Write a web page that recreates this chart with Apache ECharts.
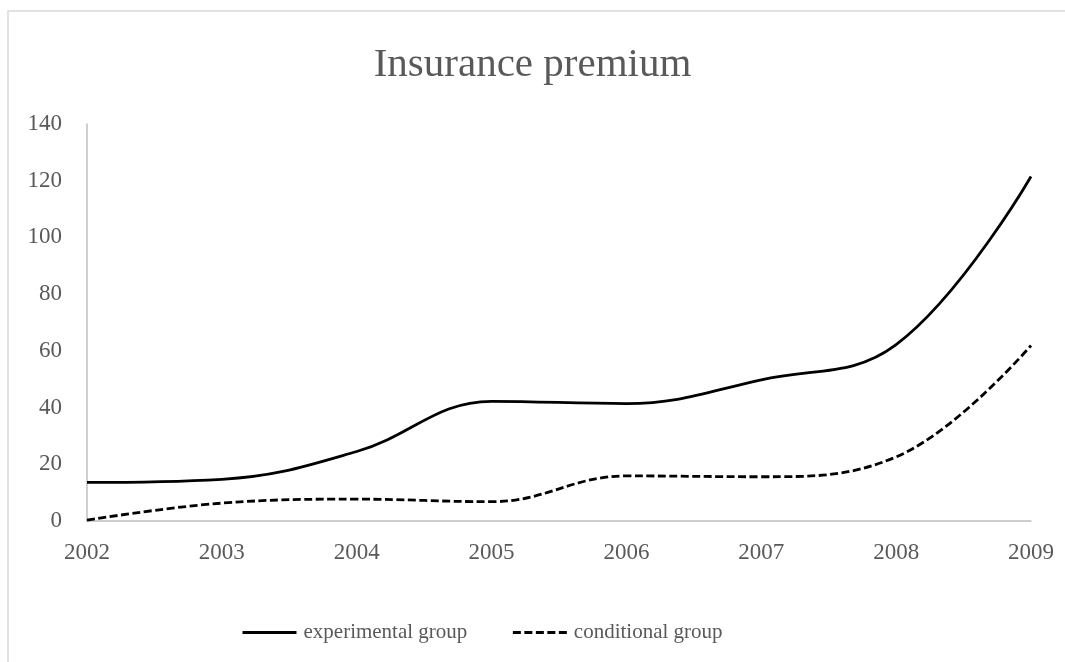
<!DOCTYPE html>
<html>
<head>
<meta charset="utf-8">
<title>Insurance premium</title>
<script src="https://cdn.jsdelivr.net/npm/echarts@6/dist/echarts.min.js"></script>
<style>
  html, body { margin: 0; padding: 0; background: #ffffff; }
  #chart { width: 1065px; height: 662px; }
</style>
</head>
<body>
<div id="chart"></div>
<script>
// Years along the horizontal axis
const years = ['2002', '2003', '2004', '2005', '2006', '2007', '2008', '2009'];

// Premium values per group
const experimentalGroup = [13.6, 14.7, 24.5, 42.2, 41.4, 49.8, 62.2, 121.5];
const conditionalGroup = [0.3, 6.3, 7.7, 6.8, 15.9, 15.6, 22.6, 61.9];

// Value axis range
const yMin = 0;
const yMax = 140;
const yStep = 20;

const textGray = '#595959';
const axisGray = '#bfbfbf';
const serif = '"Liberation Serif", "DejaVu Serif", serif';
const lineDash = [8, 3.5];

const chart = echarts.init(document.getElementById('chart'), null, { renderer: 'canvas' });

chart.setOption({
  backgroundColor: '#ffffff',
  animation: false,
  graphic: [{
    type: 'rect',
    silent: true,
    shape: { x: 8, y: 11, width: 1100, height: 700 },
    style: { fill: 'none', stroke: '#d9d9d9', lineWidth: 1.5 }
  }],
  title: {
    text: 'Insurance premium',
    left: 'center',
    top: 45,
    padding: [0, 0, 0, 17],
    textStyle: {
      fontFamily: serif,
      fontSize: 41,
      fontWeight: 'normal',
      color: textGray
    }
  },
  legend: {
    left: 236,
    top: 617,
    itemWidth: 54,
    itemHeight: 14,
    itemGap: 44,
    itemStyle: { opacity: 0, borderWidth: 0 },
    lineStyle: { width: 3 },
    textStyle: {
      fontFamily: serif,
      fontSize: 21,
      color: textGray,
      padding: [0, 0, 0, 2]
    },
    data: ['experimental group', 'conditional group']
  },
  grid: {
    left: 87,
    right: 34,
    top: 124,
    bottom: 141,
    containLabel: false
  },
  xAxis: {
    type: 'category',
    data: years,
    boundaryGap: false,
    axisLine: { show: true, lineStyle: { color: axisGray, width: 1.5 } },
    axisTick: { show: false },
    splitLine: { show: false },
    axisLabel: {
      margin: 20,
      fontFamily: serif,
      fontSize: 23,
      color: textGray
    }
  },
  yAxis: {
    type: 'value',
    min: yMin,
    max: yMax,
    interval: yStep,
    axisLine: { show: true, lineStyle: { color: axisGray, width: 1.5 } },
    axisTick: { show: false },
    splitLine: { show: false },
    axisLabel: {
      margin: 25,
      fontFamily: serif,
      fontSize: 23,
      color: textGray
    }
  },
  series: [
    {
      name: 'experimental group',
      type: 'line',
      data: experimentalGroup,
      smooth: 0.4,
      symbol: 'none',
      showSymbol: false,
      lineStyle: { color: '#000000', width: 2.8, type: 'solid' },
      itemStyle: { color: '#000000' }
    },
    {
      name: 'conditional group',
      type: 'line',
      data: conditionalGroup,
      smooth: 0.4,
      symbol: 'none',
      showSymbol: false,
      lineStyle: { color: '#000000', width: 2.8, type: lineDash },
      itemStyle: { color: '#000000' }
    }
  ]
});
</script>
</body>
</html>
